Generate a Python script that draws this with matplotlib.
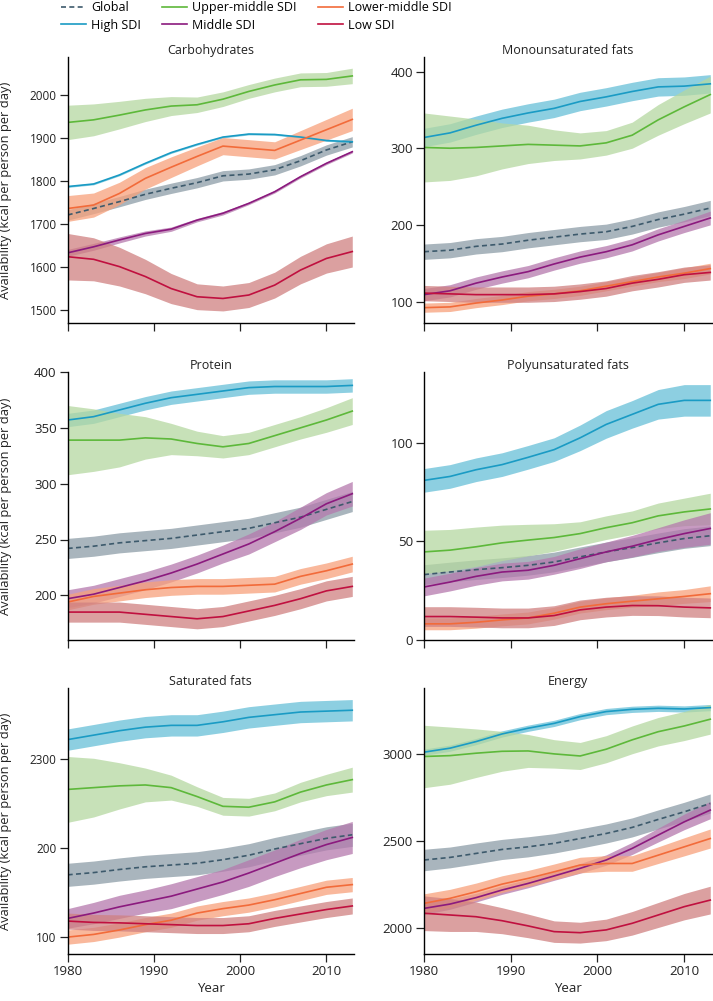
import numpy as np
import matplotlib
matplotlib.use("Agg")
import matplotlib.pyplot as plt

plt.rcParams['font.family'] = ['Open Sans', 'DejaVu Sans']

years = [1980, 1983, 1986, 1989, 1992, 1995, 1998, 2001, 2004, 2007, 2010, 2013]

series = ['Global', 'High SDI', 'Upper-middle SDI', 'Middle SDI', 'Lower-middle SDI', 'Low SDI']
line_colors = ['#3d5a6c', '#1a9bc4', '#5db83a', '#8b1a7e', '#f26b3a', '#c0103f']
band_colors = ['#8d9da7', '#67c0d8', '#b5d8a0', '#b579ad', '#f7a17b', '#d08080']

# rows follow the order of `series`
carb_mean = [
    [1721, 1736, 1752, 1769, 1783, 1796, 1812, 1816, 1826, 1847, 1872, 1891],
    [1787, 1793, 1814, 1841, 1866, 1885, 1902, 1909, 1908, 1902, 1894, 1891],
    [1936, 1942, 1953, 1965, 1974, 1977, 1990, 2008, 2023, 2035, 2036, 2044],
    [1633, 1647, 1663, 1678, 1688, 1709, 1725, 1748, 1775, 1810, 1841, 1868],
    [1736, 1744, 1771, 1806, 1832, 1857, 1881, 1876, 1871, 1895, 1919, 1943],
    [1624, 1618, 1601, 1578, 1550, 1531, 1527, 1535, 1558, 1593, 1620, 1636],
]
carb_half = [
    [12, 12, 12, 12, 12, 12, 12, 12, 12, 12, 12, 12],
    [2, 2, 2, 2, 2, 2, 2, 2, 2, 2, 2, 2],
    [40, 37, 32, 27, 22, 18, 17, 16, 16, 16, 16, 18],
    [8, 8, 7, 6, 5, 4, 4, 3, 3, 3, 3, 3],
    [30, 28, 26, 25, 24, 22, 20, 20, 20, 22, 24, 26],
    [54, 50, 45, 40, 35, 30, 29, 29, 30, 32, 34, 36],
]

mono_mean = [
    [165, 167, 172, 175, 180, 184, 188, 191, 198, 207, 214, 222],
    [314, 320, 330, 339, 346, 352, 361, 367, 374, 380, 381, 384],
    [301, 300, 301, 303, 305, 304, 303, 307, 317, 337, 354, 370],
    [109, 114, 124, 132, 139, 149, 158, 165, 174, 187, 198, 209],
    [92, 93, 98, 102, 107, 110, 114, 120, 126, 132, 137, 143],
    [111, 110, 109, 109, 109, 110, 113, 117, 124, 129, 135, 138],
]
mono_half = [
    [10, 10, 10, 10, 10, 10, 10, 10, 10, 10, 10, 10],
    [12, 12, 12, 12, 12, 12, 12, 12, 12, 12, 12, 12],
    [45, 42, 37, 30, 25, 20, 17, 16, 17, 20, 22, 24],
    [8, 8, 8, 8, 8, 8, 8, 8, 8, 8, 8, 9],
    [6, 6, 6, 6, 6, 6, 6, 6, 6, 6, 7, 7],
    [10, 10, 10, 10, 10, 10, 10, 10, 10, 10, 10, 10],
]

prot_mean = [
    [242, 244, 247, 249, 251, 254, 257, 260, 265, 270, 277, 284],
    [357, 360, 366, 372, 377, 380, 383, 386, 387, 387, 387, 388],
    [339, 339, 339, 341, 340, 336, 333, 336, 343, 350, 357, 365],
    [197, 201, 207, 213, 220, 228, 237, 246, 257, 269, 282, 291],
    [194, 199, 202, 205, 207, 208, 208, 209, 210, 217, 222, 228],
    [185, 185, 185, 183, 181, 179, 181, 186, 191, 197, 204, 208],
]
prot_half = [
    [9, 9, 9, 9, 9, 9, 9, 9, 9, 9, 9, 9],
    [6, 6, 6, 6, 6, 6, 6, 6, 6, 6, 6, 6],
    [31, 28, 24, 19, 14, 11, 10, 10, 10, 10, 11, 12],
    [8, 8, 8, 8, 8, 8, 8, 9, 9, 10, 10, 11],
    [7, 7, 7, 7, 7, 7, 7, 7, 7, 7, 7, 7],
    [9, 9, 9, 9, 9, 9, 9, 9, 9, 9, 9, 9],
]

poly_mean = [
    [33.2, 34.5, 35.7, 36.7, 37.9, 39.6, 42.2, 44.7, 46.9, 49.3, 51.5, 52.9],
    [81.0, 83.0, 86.4, 89.0, 92.7, 96.6, 102.6, 109.4, 114.5, 119.6, 121.6, 121.6],
    [44.7, 45.6, 47.3, 49.3, 50.7, 52.0, 54.0, 57.0, 59.5, 63.0, 65.0, 66.5],
    [26.9, 29.4, 32.3, 34.5, 35.4, 37.9, 41.3, 44.7, 47.6, 51.0, 54.0, 56.6],
    [8.2, 8.2, 9.0, 10.2, 11.2, 13.6, 16.7, 18.4, 19.7, 20.9, 22.1, 23.5],
    [11.9, 11.9, 11.6, 11.2, 11.2, 12.4, 15.3, 16.7, 17.5, 17.4, 16.7, 16.3],
]
poly_half = [
    [5, 5, 5, 5, 5, 5, 5, 5, 5, 5, 5, 5],
    [6, 6, 6, 6, 6, 6, 6.5, 7, 7, 7.5, 8, 8],
    [11, 10.5, 10, 9, 8, 7, 6, 6, 6, 6.5, 7, 8],
    [4.5, 4.5, 4.5, 4.5, 4.5, 4.5, 5, 5, 5.5, 6, 7, 8],
    [3, 3, 3, 3, 3, 3, 3, 3, 3, 3.5, 3.5, 4],
    [5, 5, 5, 5, 5, 5, 5, 5, 5, 5, 5, 5],
]

sat_mean = [
    [170, 172.5, 176, 179, 181, 183, 187, 192, 199, 205, 211, 215],
    [322, 327, 332, 336, 338, 338, 342, 347, 350, 353, 354, 355],
    [266, 268, 270, 271, 268, 258, 247, 246, 252, 263, 271, 277],
    [121, 127, 134, 140, 146, 154, 162, 172, 183, 194, 204, 212],
    [100, 103, 108, 114, 119, 127, 132, 136, 142, 149, 156, 159],
    [118, 116.5, 116, 115, 114, 113, 113, 115, 121, 126, 131, 135],
]
sat_half = [
    [13, 13, 13, 13, 13, 13, 13, 13, 13, 13, 13, 13],
    [12, 12, 12, 12, 12, 12, 12, 12, 12, 12, 12, 12],
    [37, 33, 26, 19, 14, 11, 10, 10, 10, 11, 12, 14],
    [11, 12, 13, 13, 14, 14, 14, 15, 15, 16, 17, 18],
    [8, 8, 8, 8, 8, 8, 8, 8, 8, 8, 8, 8],
    [9, 9, 9, 9, 9, 9, 9, 9, 9, 9, 9, 9],
]

energy_mean = [
    [2390, 2405, 2428, 2451, 2466, 2486, 2514, 2543, 2578, 2624, 2668, 2716],
    [3012, 3035, 3073, 3117, 3150, 3178, 3217, 3246, 3259, 3265, 3261, 3269],
    [2987, 2992, 3006, 3017, 3019, 3002, 2990, 3029, 3083, 3130, 3163, 3202],
    [2111, 2136, 2173, 2217, 2255, 2298, 2342, 2390, 2457, 2534, 2610, 2678],
    [2140, 2169, 2207, 2251, 2284, 2322, 2361, 2370, 2370, 2418, 2466, 2514],
    [2083, 2073, 2063, 2040, 2010, 1977, 1971, 1987, 2025, 2073, 2121, 2159],
]
energy_half = [
    [62, 60, 60, 58, 58, 56, 56, 55, 55, 55, 55, 55],
    [18, 18, 18, 18, 18, 18, 18, 18, 18, 18, 18, 18],
    [180, 165, 140, 115, 95, 82, 78, 78, 80, 82, 84, 86],
    [35, 30, 25, 25, 25, 25, 28, 30, 35, 40, 45, 50],
    [55, 52, 50, 48, 46, 45, 45, 45, 45, 48, 52, 55],
    [100, 95, 85, 75, 68, 62, 60, 62, 68, 72, 76, 80],
]

panels = [
    ('Carbohydrates', carb_mean, carb_half, (1470, 2088), [1500, 1600, 1700, 1800, 1900, 2000], None),
    ('Monounsaturated fats', mono_mean, mono_half, (72, 419), [100, 200, 300, 400], None),
    ('Protein', prot_mean, prot_half, (160, 400), [200, 250, 300, 350, 400], None),
    ('Polyunsaturated fats', poly_mean, poly_half, (0, 136), [0, 50, 100], None),
    ('Saturated fats', sat_mean, sat_half, (81, 380), [100, 200, 300], ['100', '200', '2300']),
    ('Energy', energy_mean, energy_half, (1848, 3382), [2000, 2500, 3000], None),
]

W, H = 713, 1001
fig = plt.figure(figsize=(W / 100, H / 100), dpi=100)

col_x = [67.7, 424]
col_w = [286.3, 288]
row_top = [57, 372, 688]
row_bot = [323, 640, 954]

for i, (title, mean, half, ylim, yticks, ylabels) in enumerate(panels):
    r, c = divmod(i, 2)
    ax = fig.add_axes([col_x[c] / W, 1 - row_bot[r] / H, col_w[c] / W, (row_bot[r] - row_top[r]) / H])
    for k in range(len(series)):
        m = np.array(mean[k], dtype=float)
        h = np.array(half[k], dtype=float)
        ax.fill_between(years, m - h, m + h, color=band_colors[k], alpha=0.75, lw=0)
    for k in range(len(series)):
        ls = (0, (3, 2)) if k == 0 else '-'
        ax.plot(years, mean[k], color=line_colors[k], lw=1.2, ls=ls, label=series[k])

    ax.set_xlim(1980, 2013.2)
    ax.set_ylim(*ylim)
    ax.set_xticks([1980, 1990, 2000, 2010])
    ax.set_yticks(yticks)
    if ylabels:
        ax.set_yticklabels(ylabels)
    for s in ['top', 'right']:
        ax.spines[s].set_visible(False)
    for s in ['left', 'bottom']:
        ax.spines[s].set_linewidth(1.0)
    ax.tick_params(direction='out', length=6, width=0.9, colors='#222222', labelsize=9.5, pad=2)
    if title in ('Carbohydrates', 'Saturated fats'):
        ax.tick_params(axis='y', labelsize=8.5)
    ax.set_title(title, fontsize=9, pad=1, color='#222222')
    if r < 2:
        ax.tick_params(axis='x', labelbottom=False)
    else:
        ax.set_xlabel('Year', fontsize=9.5, color='#222222', labelpad=3)
    if c == 0:
        ax.set_ylabel('Availability (kcal per person per day)', fontsize=9.3, color='#222222')
        ax.yaxis.set_label_coords(-0.195, 0.5)

handles, labels = ax.get_legend_handles_labels()
fig.legend(handles, labels, loc='upper left', bbox_to_anchor=(60 / W, 1.0), ncol=3,
           frameon=False, fontsize=9, handlelength=2.0, handletextpad=0.4,
           columnspacing=1.7, labelspacing=0.35, borderaxespad=0, borderpad=0.1)

fig.savefig('out.png', dpi=100)
